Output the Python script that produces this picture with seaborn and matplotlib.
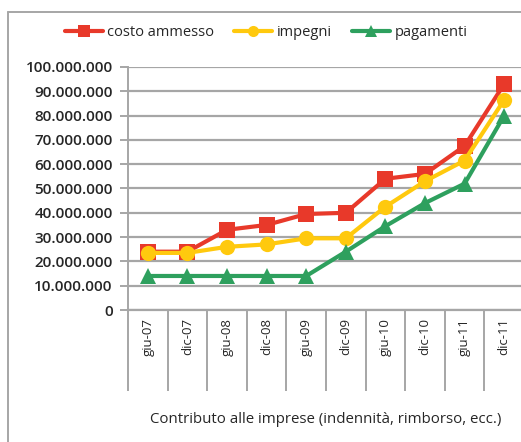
import matplotlib
matplotlib.use("Agg")
import matplotlib.pyplot as plt
from matplotlib.ticker import FuncFormatter, FixedLocator
from matplotlib.lines import Line2D
import seaborn as sns
import pandas as pd
import numpy as np

periodi = ["giu-07", "dic-07", "giu-08", "dic-08", "giu-09",
           "dic-09", "giu-10", "dic-10", "giu-11", "dic-11"]
costo_ammesso = [24.0e6, 24.0e6, 33.0e6, 35.0e6, 39.5e6, 40.0e6, 54.0e6, 56.0e6, 67.5e6, 93.0e6]
impegni = [23.5e6, 23.5e6, 26.0e6, 27.0e6, 29.5e6, 29.5e6, 42.5e6, 53.0e6, 61.5e6, 86.5e6]
pagamenti = [14.0e6, 14.0e6, 14.0e6, 14.0e6, 14.0e6, 24.0e6, 34.5e6, 44.0e6, 52.0e6, 80.0e6]
serie = ["costo ammesso", "impegni", "pagamenti"]
colori = ["#E8392A", "#FFC90E", "#2EA05E"]
marker = ["s", "o", "^"]

sns.set_style("white")
plt.rcParams["font.family"] = ["Open Sans", "DejaVu Sans"]

rows = []
for nome, vals in zip(serie, [costo_ammesso, impegni, pagamenti]):
    for i, v in enumerate(vals):
        rows.append({"pos": i, "valore": v, "serie": nome})
df = pd.DataFrame(rows)

fig = plt.figure(figsize=(5.21, 4.42), dpi=100)
ax = fig.add_axes([128 / 521, 1 - 310 / 442, 396 / 521, 243 / 442])

sns.lineplot(data=df, x="pos", y="valore", hue="serie", style="serie",
             hue_order=serie, style_order=serie, palette=colori,
             markers=dict(zip(serie, marker)), dashes=False,
             linewidth=3.0, markersize=11, markeredgewidth=0,
             sort=False, legend=False, ax=ax)

ax.set_xlim(-0.5, 9.5)
ax.set_ylim(0, 100e6)
ax.set_yticks(np.arange(0, 100e6 + 1, 10e6))
ax.yaxis.set_major_formatter(FuncFormatter(lambda v, p: f"{v:,.0f}".replace(",", ".")))
ax.grid(axis="y", color="#A6A6A6", linewidth=1.6)
ax.set_axisbelow(True)
for s in ["top", "right"]:
    ax.spines[s].set_visible(False)
ax.spines["left"].set_color("#A6A6A6")
ax.spines["left"].set_linewidth(1.4)
ax.spines["bottom"].set_color("#A6A6A6")
ax.spines["bottom"].set_linewidth(1.6)

ax.tick_params(axis="y", which="major", left=True, length=6, width=1.4,
               color="#A6A6A6", labelsize=11, labelcolor="#262626", pad=5)
for t in ax.get_yticklabels():
    t.set_fontweight("semibold")

ax.set_xticks(range(len(periodi)))
ax.set_xticklabels(periodi, rotation=90, fontsize=9.5, color="#262626")
ax.xaxis.set_minor_locator(FixedLocator(np.arange(-0.5, 10, 1.0)))
ax.tick_params(axis="x", which="major", bottom=False, length=0, pad=6)
ax.tick_params(axis="x", which="minor", bottom=True, length=58, width=1.4, color="#A6A6A6")
ax.set_xlabel("Contributo alle imprese (indennità, rimborso, ecc.)",
              fontsize=10.8, color="#262626", labelpad=12)
ax.set_ylabel("")

handles = [Line2D([0], [0], color=c, marker=m, linewidth=3.0, markersize=8,
                  markeredgewidth=0) for c, m in zip(colori, marker)]
fig.legend(handles, serie, loc="center", bbox_to_anchor=(266 / 521, 1 - 33 / 442),
           ncol=3, frameon=False, fontsize=10.5, handlelength=2.6,
           columnspacing=1.4, handletextpad=0.3, labelcolor="#262626")

# cornice del grafico
fig.add_artist(Line2D([8 / 521, 8 / 521], [0, 1 - 12 / 442], color="#A6A6A6",
                      linewidth=1.4, transform=fig.transFigure))
fig.add_artist(Line2D([8 / 521, 1], [1 - 12 / 442, 1 - 12 / 442], color="#A6A6A6",
                      linewidth=1.4, transform=fig.transFigure))

fig.savefig("out.png", dpi=100)
